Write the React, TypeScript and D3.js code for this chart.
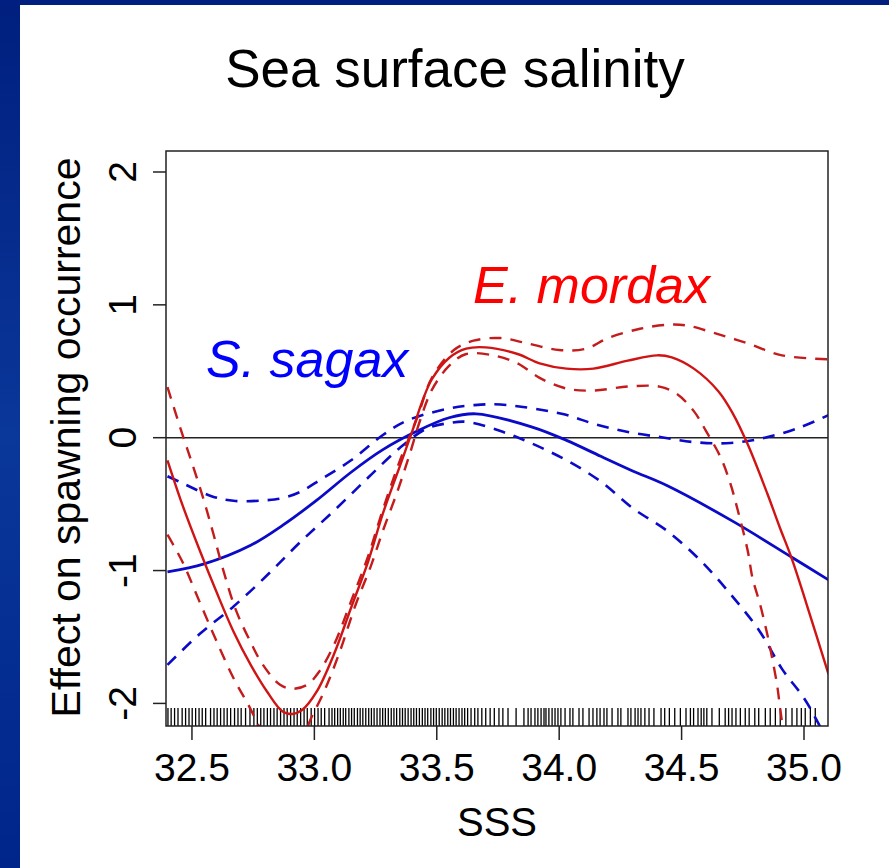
import React from "react";
import * as d3 from "d3";

// ---------- text ----------
const titleText = "Sea surface salinity";
const xLabelText = "SSS";
const yLabelText = "Effect on spawning occurrence";
const sagaxLabel = "S. sagax";
const mordaxLabel = "E. mordax";

// ---------- ticks ----------
const xTicks = [32.5, 33.0, 33.5, 34.0, 34.5, 35.0];
const yTicks = [-2, -1, 0, 1, 2];

// ---------- S. sagax (blue) ----------
const sagaxFit: [number, number][] = [
  [32.40, -1.01], [32.55, -0.95], [32.74, -0.81], [32.87, -0.66], [33.01, -0.47],
  [33.15, -0.26], [33.28, -0.09], [33.42, 0.05], [33.55, 0.15], [33.66, 0.18],
  [33.89, 0.08], [34.03, -0.02], [34.17, -0.14], [34.30, -0.25], [34.44, -0.36],
  [34.71, -0.63], [34.95, -0.90], [35.10, -1.07],
];
const sagaxUpper: [number, number][] = [
  [32.40, -0.29], [32.47, -0.35], [32.58, -0.44], [32.67, -0.475], [32.81, -0.47],
  [32.87, -0.455], [32.94, -0.41], [33.03, -0.31], [33.15, -0.17], [33.28, 0.02],
  [33.38, 0.13], [33.55, 0.22], [33.65, 0.245], [33.76, 0.25], [34.01, 0.18],
  [34.15, 0.10], [34.29, 0.04], [34.43, 0.0], [34.56, -0.035], [34.70, -0.04],
  [34.84, 0.0], [34.98, 0.075], [35.10, 0.17],
];
const sagaxLower: [number, number][] = [
  [32.40, -1.71], [32.53, -1.48], [32.67, -1.27], [32.81, -1.03], [32.94, -0.79],
  [33.08, -0.55], [33.22, -0.30], [33.35, -0.075], [33.46, 0.07], [33.55, 0.11],
  [33.62, 0.12], [33.76, 0.05], [33.89, -0.045], [34.03, -0.17], [34.17, -0.33],
  [34.30, -0.53], [34.44, -0.70], [34.58, -0.93], [34.71, -1.2], [34.82, -1.46],
  [34.91, -1.74], [35.00, -1.96], [35.05, -2.12], [35.10, -2.30],
];

// ---------- E. mordax (red) ----------
const mordaxFit: [number, number][] = [
  [32.40, -0.17], [32.46, -0.50], [32.53, -0.84], [32.60, -1.16], [32.67, -1.46],
  [32.74, -1.71], [32.81, -1.92], [32.87, -2.06], [32.91, -2.08], [32.95, -2.05],
  [33.01, -1.91], [33.08, -1.63], [33.15, -1.28], [33.22, -0.93], [33.28, -0.57],
  [33.35, -0.21], [33.40, 0.05], [33.44, 0.27], [33.48, 0.44], [33.55, 0.60],
  [33.62, 0.67], [33.70, 0.68], [33.83, 0.63], [33.92, 0.56], [34.03, 0.52],
  [34.14, 0.52], [34.28, 0.58], [34.40, 0.62], [34.46, 0.605], [34.55, 0.52],
  [34.65, 0.35], [34.71, 0.18], [34.77, -0.05], [34.85, -0.42], [34.90, -0.67],
  [34.95, -0.91], [35.01, -1.25], [35.10, -1.78],
];
const mordaxUpper: [number, number][] = [
  [32.40, 0.38], [32.46, 0.03], [32.50, -0.19], [32.55, -0.48], [32.59, -0.74],
  [32.63, -1.01], [32.68, -1.30], [32.74, -1.54], [32.79, -1.71], [32.86, -1.86],
  [32.91, -1.89], [32.97, -1.86], [33.02, -1.76], [33.08, -1.56], [33.15, -1.23],
  [33.22, -0.89], [33.28, -0.54], [33.35, -0.17], [33.42, 0.15], [33.48, 0.45],
  [33.57, 0.66], [33.65, 0.73], [33.76, 0.75], [33.87, 0.71], [34.00, 0.66],
  [34.11, 0.67], [34.20, 0.75], [34.33, 0.82], [34.44, 0.85], [34.52, 0.845],
  [34.63, 0.79], [34.77, 0.71], [34.91, 0.62], [35.10, 0.59],
];
const mordaxLower: [number, number][] = [
  [32.40, -0.73], [32.46, -0.93], [32.53, -1.23], [32.60, -1.53], [32.67, -1.81],
  [32.73, -2.01], [32.80, -2.25], [32.88, -2.40], [32.95, -2.30], [32.98, -2.14],
  [33.04, -1.91], [33.10, -1.63], [33.17, -1.25], [33.23, -0.97], [33.28, -0.70],
  [33.34, -0.40], [33.39, -0.12], [33.43, 0.12], [33.48, 0.36], [33.55, 0.54],
  [33.62, 0.63], [33.73, 0.62], [33.83, 0.56], [33.92, 0.45], [34.03, 0.37],
  [34.14, 0.355], [34.28, 0.385], [34.41, 0.385], [34.48, 0.33], [34.55, 0.20],
  [34.60, 0.05], [34.66, -0.15], [34.70, -0.35], [34.73, -0.55], [34.77, -0.85],
  [34.79, -1.06], [34.82, -1.25], [34.85, -1.48], [34.87, -1.66], [34.89, -1.86],
  [34.90, -2.0], [34.91, -2.14], [34.93, -2.4], [34.96, -2.8],
];

// ---------- rug (observed SSS values) ----------
const rugValues = [
  32.402, 32.415, 32.429, 32.443, 32.460, 32.474, 32.488, 32.501, 32.515, 32.529,
  32.542, 32.556, 32.576, 32.590, 32.603, 32.617, 32.631, 32.644, 32.658, 32.674,
  32.688, 32.701, 32.719, 32.737, 32.753, 32.767, 32.781, 32.794, 32.808, 32.821,
  32.835, 32.848, 32.862, 32.876, 32.889, 32.903, 32.917, 32.930, 32.944, 32.958,
  32.971, 32.987, 33.001, 33.015, 33.028, 33.042, 33.060,
  33.072, 33.083, 33.095, 33.106, 33.118, 33.128, 33.141, 33.152, 33.163, 33.176,
  33.187, 33.198, 33.210, 33.222, 33.233, 33.244, 33.256, 33.268, 33.279, 33.290,
  33.302, 33.314, 33.325, 33.336, 33.349, 33.360, 33.371, 33.383, 33.395, 33.406,
  33.417, 33.429, 33.441, 33.452, 33.463, 33.476, 33.487, 33.498, 33.510, 33.522,
  33.533, 33.545, 33.556, 33.568, 33.579, 33.591, 33.603, 33.614, 33.626, 33.640,
  33.655, 33.668, 33.684, 33.700, 33.718, 33.735,
  33.754, 33.770, 33.791, 33.824, 33.856, 33.873, 33.885, 33.901, 33.913, 33.926,
  33.938, 33.946, 33.958, 33.971, 33.983, 33.995, 34.007, 34.024, 34.044, 34.056,
  34.081, 34.097, 34.122, 34.138, 34.154, 34.167, 34.183, 34.195, 34.216, 34.240,
  34.252, 34.281, 34.293, 34.310, 34.322, 34.334, 34.350, 34.367, 34.387, 34.416,
  34.431, 34.450, 34.472, 34.495, 34.518, 34.536, 34.549, 34.567, 34.580, 34.591,
  34.603, 34.624, 34.654, 34.678, 34.692, 34.706, 34.722, 34.740, 34.760, 34.776,
  34.799, 34.815, 34.842, 34.862, 34.883, 34.903, 34.926, 34.951, 34.971, 34.989,
  35.005, 35.026, 35.046,
];

const W = 889;
const H = 868;
const plot = { left: 166, right: 828, top: 151, bottom: 726 };
const FONT = "'Liberation Sans', Arial, Helvetica, sans-serif";

const BLUE_LINE = "#0a0ac8";
const RED_LINE = "#d01414";
const RED_DASH = "#c41c1c";

export default function App() {
  const x = d3.scaleLinear().domain([32.394, 35.098]).range([plot.left, plot.right]);
  const y = d3.scaleLinear().domain([-2.17, 2.158]).range([plot.bottom, plot.top]);
  const line = d3
    .line<[number, number]>()
    .x((d) => x(d[0]))
    .y((d) => y(d[1]))
    .curve(d3.curveCatmullRom.alpha(0.5));

  const rugTop = plot.bottom - 18;
  const dash = "12 9";

  return (
    <svg
      width={W}
      height={H}
      viewBox={`0 0 ${W} ${H}`}
      style={{ position: "absolute", left: 0, top: 0, display: "block" }}
      fontFamily={FONT}
    >
      <defs>
        <linearGradient id="bgBlue" x1="0" y1="0" x2="0" y2="1">
          <stop offset="0" stopColor="#001f7e" />
          <stop offset="0.5" stopColor="#0a379a" />
          <stop offset="1" stopColor="#00258a" />
        </linearGradient>
        <clipPath id="plotClip">
          <rect x={plot.left} y={plot.top} width={plot.right - plot.left} height={plot.bottom - plot.top} />
        </clipPath>
      </defs>

      {/* slide background */}
      <rect x={0} y={0} width={W} height={H} fill="url(#bgBlue)" />
      <rect x={0} y={0} width={W} height={5} fill="#001f80" />
      <rect x={20} y={5} width={W - 20} height={H - 5} fill="#ffffff" />

      {/* title */}
      <text x={455} y={87} fontSize={53} textAnchor="middle" fill="#000">
        {titleText}
      </text>

      {/* rug */}
      <g stroke="#000" strokeWidth={1.3}>
        {rugValues.map((v, i) => (
          <line key={i} x1={x(v)} x2={x(v)} y1={rugTop} y2={plot.bottom} />
        ))}
      </g>

      {/* zero line */}
      <line x1={plot.left} x2={plot.right} y1={y(0)} y2={y(0)} stroke="#222" strokeWidth={1.4} />

      {/* curves */}
      <g clipPath="url(#plotClip)" fill="none" strokeLinejoin="round">
        <path d={line(sagaxUpper) || ""} stroke={BLUE_LINE} strokeWidth={2.6} strokeDasharray={dash} />
        <path d={line(sagaxLower) || ""} stroke={BLUE_LINE} strokeWidth={2.6} strokeDasharray={dash} />
        <path d={line(sagaxFit) || ""} stroke={BLUE_LINE} strokeWidth={2.8} />
        <path d={line(mordaxUpper) || ""} stroke={RED_DASH} strokeWidth={2.4} strokeDasharray={dash} />
        <path d={line(mordaxLower) || ""} stroke={RED_DASH} strokeWidth={2.4} strokeDasharray={dash} />
        <path d={line(mordaxFit) || ""} stroke={RED_LINE} strokeWidth={2.4} />
      </g>

      {/* frame */}
      <rect
        x={plot.left}
        y={plot.top}
        width={plot.right - plot.left}
        height={plot.bottom - plot.top}
        fill="none"
        stroke="#222"
        strokeWidth={1.5}
      />

      {/* x axis */}
      <g>
        {xTicks.map((t) => (
          <g key={t}>
            <line x1={x(t)} x2={x(t)} y1={plot.bottom} y2={plot.bottom + 14} stroke="#222" strokeWidth={1.5} />
            <text x={x(t)} y={781} fontSize={39} textAnchor="middle" fill="#000">
              {t.toFixed(1)}
            </text>
          </g>
        ))}
      </g>

      {/* y axis */}
      <g>
        {yTicks.map((t) => (
          <g key={t}>
            <line x1={plot.left - 13} x2={plot.left} y1={y(t)} y2={y(t)} stroke="#222" strokeWidth={1.5} />
            <text
              transform={`translate(136, ${y(t)}) rotate(-90)`}
              fontSize={39}
              textAnchor="middle"
              fill="#000"
            >
              {String(t)}
            </text>
          </g>
        ))}
      </g>

      {/* axis titles */}
      <text x={(plot.left + plot.right) / 2} y={836} fontSize={40} textAnchor="middle" fill="#000">
        {xLabelText}
      </text>
      <text
        transform={`translate(80, ${(plot.top + plot.bottom) / 2 - 1}) rotate(-90)`}
        fontSize={41}
        textAnchor="middle"
        fill="#000"
      >
        {yLabelText}
      </text>

      {/* species labels */}
      <text x={206} y={377} fontSize={52} fontStyle="italic" fill="#0000ff">
        {sagaxLabel}
      </text>
      <text x={473} y={303} fontSize={52} fontStyle="italic" fill="#ff0000">
        {mordaxLabel}
      </text>
    </svg>
  );
}
